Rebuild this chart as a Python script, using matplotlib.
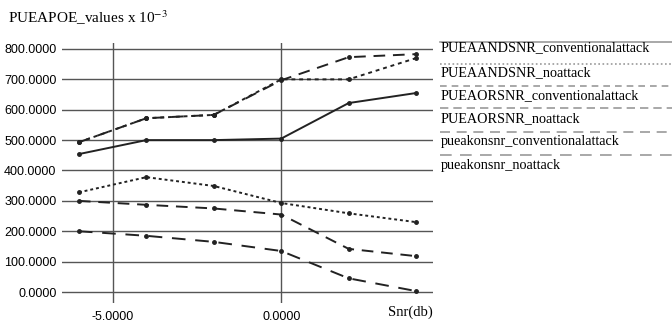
import matplotlib
matplotlib.use("Agg")
import matplotlib.pyplot as plt
from matplotlib.lines import Line2D

plt.rcParams['mathtext.fontset'] = 'stix'

# data
snr = [-6, -4, -2, 0, 2, 4]
and_conv = [493, 572, 583, 697, 773, 783]
and_noatt = [493, 572, 583, 700, 700, 770]
or_conv = [454, 500, 500, 505, 622, 655]
or_noatt = [328, 378, 349, 293, 259, 230]
kon_conv = [300, 287, 275, 255, 142, 118]
kon_noatt = [200, 185, 165, 135, 45, 3]

labels = ['PUEAANDSNR_conventionalattack', 'PUEAANDSNR_noattack',
          'PUEAORSNR_conventionalattack', 'PUEAORSNR_noattack',
          'pueakonsnr_conventionalattack', 'pueakonsnr_noattack']

fig = plt.figure(figsize=(6.72, 3.30), dpi=100)
ax = fig.add_axes([0.0923, 0.082, 0.552, 0.788])

c = '#222222'
ax.plot(snr, and_conv, color=c, lw=1.4, dashes=(6, 4), marker='o', ms=2.5)
ax.plot(snr, and_noatt, color=c, lw=1.4, dashes=(2, 2), marker='o', ms=2.5)
ax.plot(snr, or_conv, color=c, lw=1.4, marker='o', ms=2.5)
ax.plot(snr, or_noatt, color=c, lw=1.4, dashes=(1.5, 1.5), marker='o', ms=2.5)
ax.plot(snr, kon_conv, color=c, lw=1.4, dashes=(6, 4), marker='o', ms=2.5)
ax.plot(snr, kon_noatt, color=c, lw=1.4, dashes=(7, 5), marker='o', ms=2.5)

ax.set_xlim(-6.5, 4.5)
ax.set_ylim(-36, 820)
ax.set_xticks([-5, 0])
ax.set_xticklabels(['-5.0000', '0.0000'], family='Liberation Sans', fontsize=9)
ax.set_yticks(range(0, 801, 100))
ax.set_yticklabels(['%.4f' % v for v in range(0, 801, 100)],
                   family='Liberation Sans', fontsize=9)
ax.tick_params(axis='y', length=0, pad=4)
ax.tick_params(axis='x', length=0, pad=6)
ax.grid(True, color='#555555', lw=1.0)
ax.set_axisbelow(True)
for s in ax.spines.values():
    s.set_visible(False)

fig.text(0.012, 0.945, r'PUEAPOE_values x 10$^{-3}$', family='Liberation Serif',
         fontsize=11, va='center', ha='left')
fig.text(0.644, 0.055, 'Snr(db)', family='Liberation Serif', fontsize=10.5,
         ha='right', va='center')

# legend drawn as rule lines above each entry
leg_styles = ['-', (0, (1, 1.5)), (0, (4, 3)), (0, (5, 3)), (0, (6, 4)), (0, (7, 5))]
rule_y = [42, 64, 86, 108, 132, 155]
text_y = [48, 73, 96, 119, 142, 165]
for lab, ls, ry, ty in zip(labels, leg_styles, rule_y, text_y):
    fig.add_artist(Line2D([440 / 672.0, 1.0], [1 - ry / 330.0] * 2,
                          transform=fig.transFigure, color='#999999', lw=1.2, ls=ls))
    fig.text(441 / 672.0, 1 - ty / 330.0, lab, family='Liberation Serif',
             fontsize=10.2, va='center', ha='left')

fig.savefig('out.png', dpi=100)
